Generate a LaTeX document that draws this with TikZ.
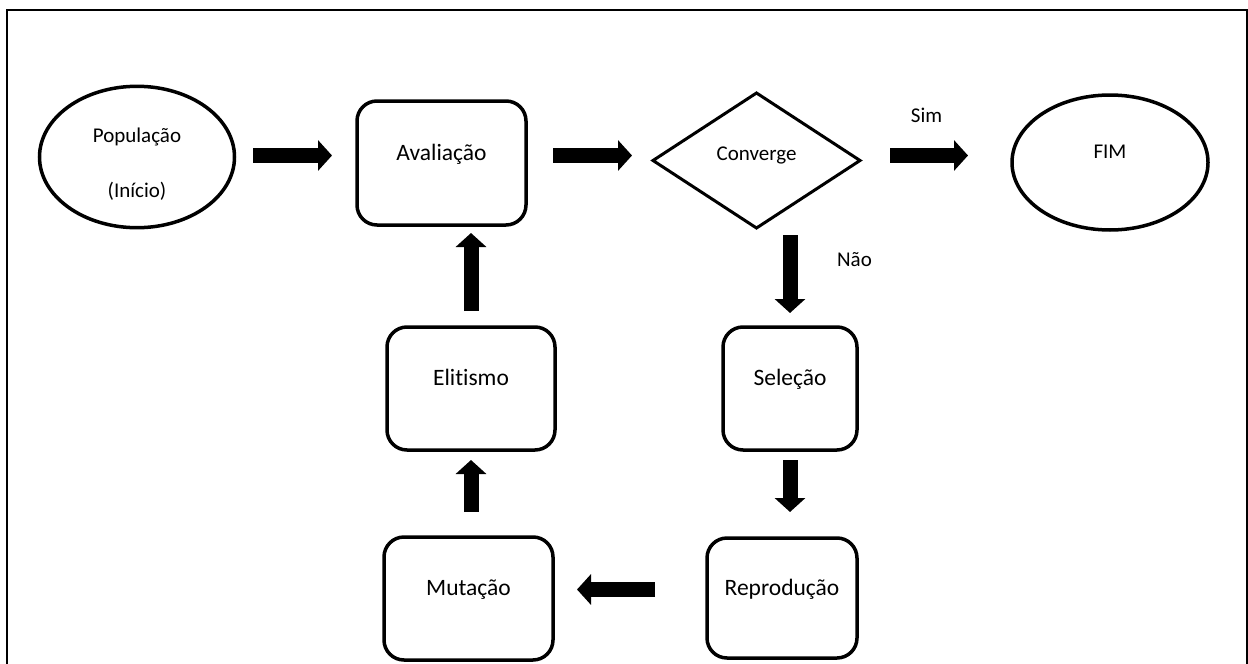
\documentclass[tikz,border=0pt]{standalone}
\usepackage{fontspec}
\setmainfont{Carlito}[Ligatures=NoCommon]
\usetikzlibrary{shapes.geometric,arrows.meta}
\begin{document}
\begin{tikzpicture}[x=1pt,y=-1pt,
  rbox/.style={draw, line width=3.5pt, rounded corners=20pt, inner sep=0pt, outer sep=0pt,
    font=\fontsize{23.5}{28}\selectfont, text height=10pt, text depth=16pt},
  ovl/.style={draw, ellipse, line width=3.5pt, inner sep=0pt, outer sep=0pt,
    font=\fontsize{21}{55}\selectfont},
  dmd/.style={draw, diamond, line width=3pt, inner sep=0pt, outer sep=0pt,
    font=\fontsize{21}{25}\selectfont, text height=8pt, text depth=8pt},
  lbl/.style={font=\fontsize{21}{25}\selectfont, inner sep=0pt, anchor=base},
  blk/.style={line width=15pt, -{Triangle[width=30pt,length=14pt]}}
]
\useasboundingbox (0,0) rectangle (1248,664);
\clip (0,0) rectangle (1248,664);
\draw[line width=2pt] (7,10) rectangle (1246.5,700);

\node[ovl, minimum width=195pt, minimum height=136pt, align=center, text height=90pt, text depth=10pt] (pop) at (137,157) {População\\(Início)};
\node[rbox, minimum width=169pt, minimum height=124pt] (aval) at (441.5,163) {Avaliação};
\node[dmd, minimum width=207pt, minimum height=135pt] (conv) at (756.5,160.5) {Converge};
\node[ovl, minimum width=196pt, minimum height=135pt, text height=10pt, text depth=19pt] (fim) at (1110,162.5) {FIM};
\node[rbox, minimum width=168pt, minimum height=123pt] (eli) at (471,388.5) {Elitismo};
\node[rbox, minimum width=134pt, minimum height=123pt] (sel) at (790,388.5) {Seleção};
\node[rbox, minimum width=169pt, minimum height=123pt] (mut) at (468.5,598.5) {Mutação};
\node[rbox, minimum width=150pt, minimum height=120pt] (rep) at (782,598) {Reprodução};

\node[lbl] (sim) at (926.5,122) {Sim};
\node[lbl] (nao) at (854.5,266) {Não};

\draw[blk, shorten <=18.5pt, shorten >=25pt] (pop.east |- 0,155.5) -- (aval.west |- 0,155.5);
\draw[blk, shorten <=27pt, shorten >=21pt] (aval.east |- 0,155.5) -- (conv.west |- 0,155.5);
\draw[blk, shorten <=30pt, shorten >=44pt] (conv.east |- 0,155.5) -- (fim.west |- 0,155.5);
\draw[blk, shorten <=7pt, shorten >=14pt] (conv.south -| sel.north) -- (sel.north);
\draw[blk, shorten <=10pt, shorten >=26pt] (sel.south) -- (sel.south |- rep.north);
\draw[blk, shorten <=52pt, shorten >=24pt] (rep.west |- 0,589.5) -- (mut.east |- 0,589.5);
\draw[blk, shorten <=25pt, shorten >=10pt] (mut.north -| eli.south) -- (eli.south);
\draw[blk, shorten <=16pt, shorten >=8pt] (eli.north) -- (eli.north |- aval.south);
\end{tikzpicture}
\end{document}
